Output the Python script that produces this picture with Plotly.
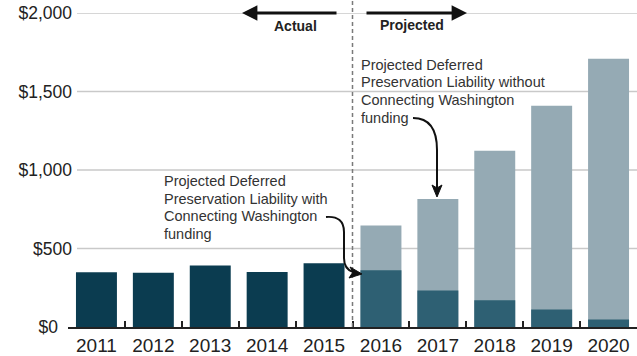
import plotly.graph_objects as go

# Deferred preservation liability, $ millions
actual_years = ["2011", "2012", "2013", "2014", "2015"]
actual_values = [348, 345, 391, 351, 406]

projected_years = ["2016", "2017", "2018", "2019", "2020"]
without_cw = [646, 816, 1123, 1410, 1709]
with_cw = [361, 232, 171, 111, 48]

all_years = actual_years + projected_years
y_ticks = [500, 1000, 1500, 2000]
y_tick_text = ["$500", "$1,000", "$1,500", "$2,000"]

label_without = ["Projected Deferred", "Preservation Liability without",
                 "Connecting Washington", "funding"]
label_with = ["Projected Deferred", "Preservation Liability with",
              "Connecting Washington", "funding"]

DARK = "#0b3c50"
MID = "#2e6073"
LIGHT = "#95aab4"
FONT = "Liberation Sans, Arial, Helvetica, sans-serif"

W, H = 637, 356
ML, MR, MT, MB = 68, 0, 13, 29
PW, PH = W - ML - MR, H - MT - MB


def px(x, y):
    """Pixel position -> paper coordinates."""
    return (x - ML) / PW, (H - MB - y) / PH


def path(points_cmds):
    out = []
    for cmd, pts in points_cmds:
        coords = " ".join(f"{px(x, y)[0]:.5f},{px(x, y)[1]:.5f}" for x, y in pts)
        out.append(f"{cmd} {coords}")
    return " ".join(out)


fig = go.Figure()
fig.add_trace(go.Bar(x=projected_years, y=without_cw, marker_color=LIGHT,
                     marker_line_width=0, name="Without Connecting Washington"))
fig.add_trace(go.Bar(x=projected_years, y=with_cw, marker_color=MID,
                     marker_line_width=0, name="With Connecting Washington"))
fig.add_trace(go.Bar(x=actual_years, y=actual_values, marker_color=DARK,
                     marker_line_width=0, name="Actual"))
# carrier for the separate "$0" label axis
fig.add_trace(go.Scatter(x=[all_years[0]], y=[0], yaxis="y2", mode="markers",
                         marker=dict(opacity=0), hoverinfo="skip",
                         showlegend=False))

shapes = []
# horizontal gridlines
for v in y_ticks:
    shapes.append(dict(type="line", xref="paper", yref="y", x0=9 / PW, x1=1,
                       y0=v, y1=v, line=dict(color="#c9c9c9", width=1.5),
                       layer="below"))
# divider between actual and projected
shapes.append(dict(type="line", xref="x", yref="paper", x0=4.5, x1=4.5,
                   y0=0, y1=px(0, 1)[1],
                   line=dict(color="#7a7a7a", width=1.5, dash="4px,3px")))

# curved leader to the 2017 light bar
shapes.append(dict(type="path", xref="paper", yref="paper",
                   path=path([("M", [(413, 118)]),
                              ("C", [(430, 118), (437, 130), (437, 150)]),
                              ("L", [(437, 188)])]),
                   line=dict(color="#111", width=2)))
shapes.append(dict(type="path", xref="paper", yref="paper",
                   path=path([("M", [(437, 197)]), ("L", [(432, 185)]),
                              ("L", [(437, 188)]), ("L", [(442, 185)])]) + " Z",
                   fillcolor="#111", line=dict(color="#111", width=1)))

# curved leader to the 2016 dark bar
shapes.append(dict(type="path", xref="paper", yref="paper",
                   path=path([("M", [(326, 217)]),
                              ("C", [(338, 216), (344, 221), (344, 232)]),
                              ("L", [(344, 258)]),
                              ("C", [(344, 266), (347, 270), (353, 272)])]),
                   line=dict(color="#111", width=2)))
shapes.append(dict(type="path", xref="paper", yref="paper",
                   path=path([("M", [(362, 274)]), ("L", [(350, 267)]),
                              ("L", [(353, 272)]), ("L", [(349, 278)])]) + " Z",
                   fillcolor="#111", line=dict(color="#111", width=1)))

annotations = []
# Actual / Projected arrows on the top gridline
tip_a = px(242, 13)
annotations.append(dict(xref="paper", yref="paper", x=tip_a[0], y=tip_a[1],
                        ax=338 - 242, ay=0, text="", showarrow=True,
                        arrowhead=2, arrowsize=1.1, arrowwidth=2.8,
                        arrowcolor="#111"))
tip_p = px(467, 13)
annotations.append(dict(xref="paper", yref="paper", x=tip_p[0], y=tip_p[1],
                        ax=365 - 467, ay=0, text="", showarrow=True,
                        arrowhead=2, arrowsize=1.1, arrowwidth=2.8,
                        arrowcolor="#111"))
for text, (cx, cy) in [("<b>Actual</b>", (295, 26)),
                       ("<b>Projected</b>", (412, 25))]:
    p = px(cx, cy)
    annotations.append(dict(xref="paper", yref="paper", x=p[0], y=p[1],
                            xanchor="center", yanchor="middle",
                            text=text, showarrow=False,
                            font=dict(family=FONT, size=14, color="#222")))


def label_block(lines, left, first_y, step=17.7):
    for i, line in enumerate(lines):
        p = px(left, first_y + i * step)
        annotations.append(dict(xref="paper", yref="paper", x=p[0], y=p[1],
                                xanchor="left", yanchor="middle",
                                showarrow=False, text=line,
                                font=dict(family=FONT, size=14.5, color="#333")))


label_block(label_without, 359, 64.5)
label_block(label_with, 162, 181)

fig.update_layout(
    width=W, height=H,
    margin=dict(l=ML, r=MR, t=MT, b=MB, pad=0),
    paper_bgcolor="white", plot_bgcolor="white",
    barmode="overlay", bargap=0.28, showlegend=False,
    font=dict(family=FONT, color="#222"),
    shapes=shapes, annotations=annotations,
    xaxis=dict(type="category", categoryorder="array", categoryarray=all_years,
               range=[-0.5, 9.5], showline=True, linecolor="#222", linewidth=2,
               ticks="inside", tickson="boundaries", ticklen=6, tickwidth=1.5,
               tickcolor="#222", showgrid=False, zeroline=False,
               tickfont=dict(family=FONT, size=19, color="#222")),
    yaxis=dict(range=[0, 2000], tickvals=y_ticks, ticktext=y_tick_text,
               showgrid=False, zeroline=False, showline=False, ticks="",
               ticklabelstandoff=-5,
               tickfont=dict(family=FONT, size=17.5, color="#222")),
    yaxis2=dict(range=[0, 2000], overlaying="y", side="left",
                tickvals=[0], ticktext=["$0"],
                showgrid=False, zeroline=False, showline=False, ticks="",
                ticklabelstandoff=9,
                tickfont=dict(family=FONT, size=17.5, color="#222")),
)

fig.write_html("out.html")
